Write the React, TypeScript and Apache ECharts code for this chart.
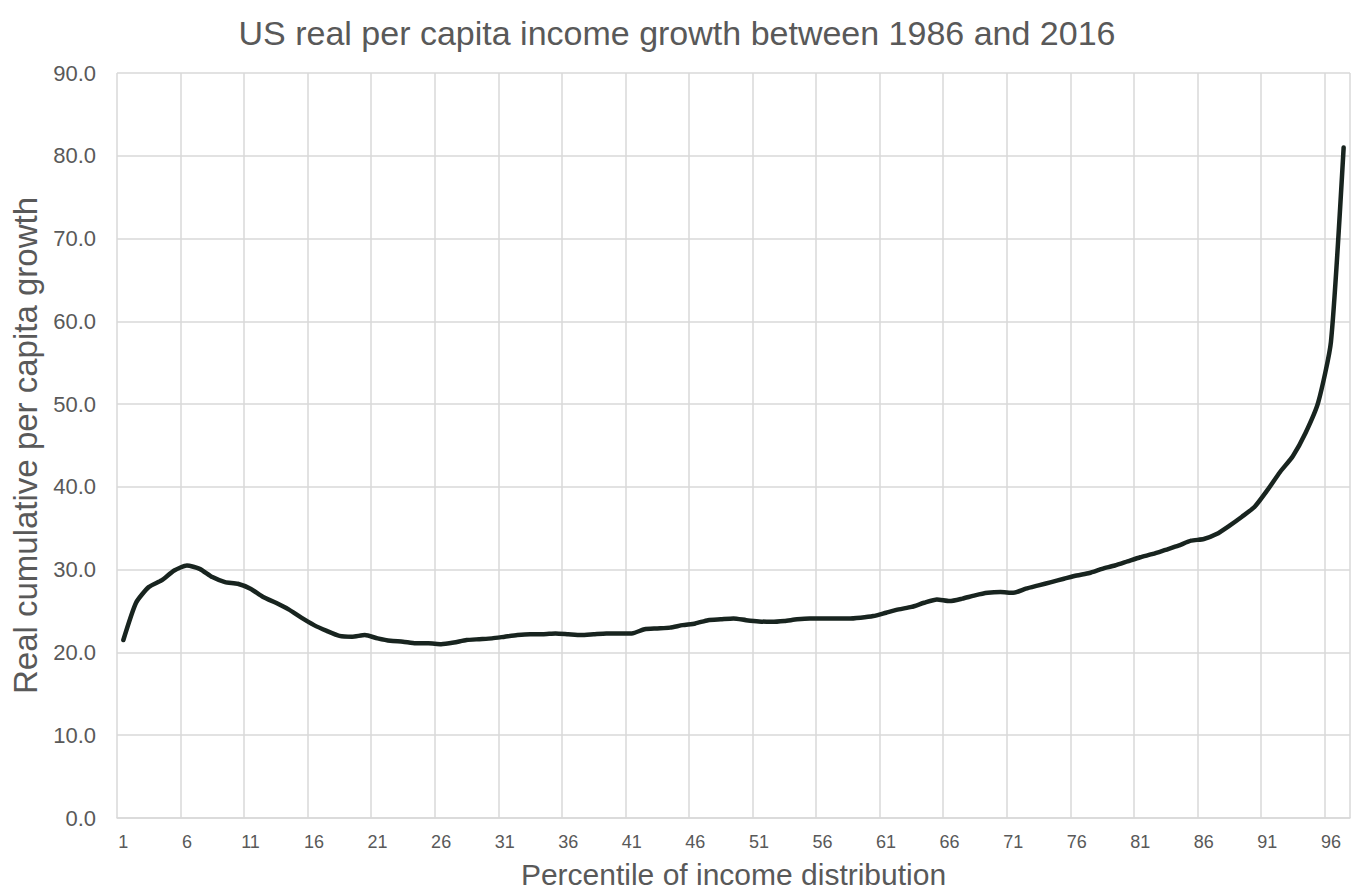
import React, { useEffect, useRef } from "react";
import * as echarts from "echarts";

const TITLE = "US real per capita income growth between 1986 and 2016";
const X_NAME = "Percentile of income distribution";
const Y_NAME = "Real cumulative per capita growth";

const percentiles: string[] = [];
for (let i = 1; i <= 97; i++) percentiles.push(String(i));

const growth: number[] = [
  21.5, 26.0, 27.9, 28.7, 29.9, 30.5, 30.1, 29.1, 28.5, 28.3,
  27.7, 26.7, 26.0, 25.2, 24.2, 23.3, 22.6, 22.0, 21.9, 22.1,
  21.7, 21.4, 21.3, 21.1, 21.1, 21.0, 21.2, 21.5, 21.6, 21.7,
  21.9, 22.1, 22.2, 22.2, 22.3, 22.2, 22.1, 22.2, 22.3, 22.3,
  22.3, 22.8, 22.9, 23.0, 23.3, 23.5, 23.9, 24.0, 24.1, 23.9,
  23.75, 23.7, 23.8, 24.0, 24.1, 24.1, 24.1, 24.1, 24.2, 24.4,
  24.8, 25.2, 25.5, 26.0, 26.4, 26.2, 26.5, 26.9, 27.2, 27.3,
  27.2, 27.7, 28.1, 28.5, 28.9, 29.3, 29.6, 30.1, 30.5, 31.0,
  31.5, 31.9, 32.4, 32.9, 33.5, 33.7, 34.3, 35.3, 36.4, 37.6,
  39.6, 41.8, 43.7, 46.5, 50.2, 57.5, 81.0,
];

const TEXT = "#595959";
const GRID = "#d9d9d9";
const FONT = "'Liberation Sans', Arial, sans-serif";

export default function App() {
  const ref = useRef<HTMLDivElement>(null);
  useEffect(() => {
    if (!ref.current) return;
    const chart = echarts.init(ref.current, undefined, { renderer: "svg" });
    chart.setOption({
      animation: false,
      backgroundColor: "#ffffff",
      textStyle: { fontFamily: FONT },
      title: {
        text: TITLE,
        left: "center",
        top: 11,
        textStyle: { color: TEXT, fontSize: 34, fontWeight: "normal", fontFamily: FONT },
      },
      grid: {
        left: 117,
        right: 4,
        top: 73,
        bottom: 72,
        containLabel: false,
        outerBoundsMode: "none",
      },
      xAxis: {
        type: "category",
        data: percentiles,
        boundaryGap: true,
        name: X_NAME,
        nameLocation: "middle",
        nameGap: 41,
        nameTextStyle: { color: TEXT, fontSize: 30, fontFamily: FONT },
        axisLine: { show: true, lineStyle: { color: GRID, width: 1.5 } },
        axisTick: { show: false, interval: 4 },
        axisLabel: { interval: 4, color: TEXT, fontSize: 18, margin: 15, fontFamily: FONT },
        splitLine: { show: true, interval: 4, lineStyle: { color: GRID, width: 1.5 } },
      },
      yAxis: {
        type: "value",
        min: 0,
        max: 90,
        interval: 10,
        name: Y_NAME,
        nameLocation: "middle",
        nameGap: 75,
        nameTextStyle: { color: TEXT, fontSize: 33, fontFamily: FONT },
        axisLine: { show: false },
        axisTick: { show: false },
        axisLabel: {
          color: TEXT,
          fontSize: 22,
          margin: 21,
          fontFamily: FONT,
          formatter: (v: number) => v.toFixed(1),
        },
        splitLine: { show: true, lineStyle: { color: GRID, width: 1.5 } },
      },
      series: [
        {
          type: "line",
          data: growth,
          showSymbol: false,
          smooth: 0.2,
          lineStyle: { color: "#18241f", width: 4.5, cap: "round", join: "round" },
        },
      ],
    });
    return () => chart.dispose();
  }, []);
  return (
    <div
      ref={ref}
      style={{ position: "fixed", left: 0, top: 0, width: 1354, height: 890 }}
    />
  );
}
